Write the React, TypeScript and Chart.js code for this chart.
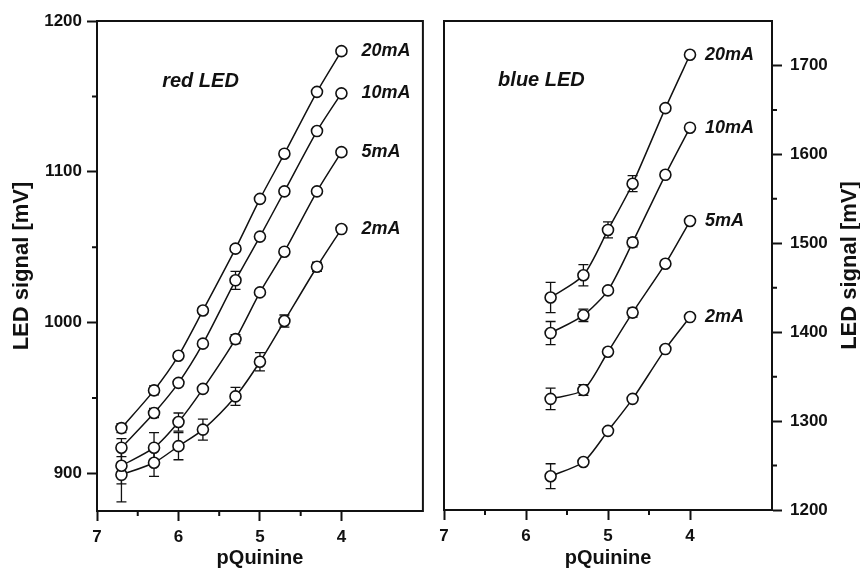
import React, { useEffect, useRef } from "react";
import { Chart, registerables } from "chart.js";
Chart.register(...registerables);

// ---- data ----
const redX = [6.7, 6.3, 6.0, 5.7, 5.3, 5.0, 4.7, 4.3, 4.0];
const red20 = [930, 955, 978, 1008, 1049, 1082, 1112, 1153, 1180];
const red20Err = [3, 3, 2, 2, 2, 2, 2, 2, 2];
const red10 = [917, 940, 960, 986, 1028, 1057, 1087, 1127, 1152];
const red10Err = [6, 3, 2, 2, 6, 2, 2, 2, 2];
const red5 = [905, 917, 934, 956, 989, 1020, 1047, 1087, 1113];
const red5Err = [12, 10, 6, 2, 3, 2, 2, 2, 2];
const red2 = [899, 907, 918, 929, 951, 974, 1001, 1037, 1062];
const red2Err = [18, 9, 9, 7, 6, 6, 4, 3, 2];

const blueX = [5.7, 5.3, 5.0, 4.7, 4.3, 4.0];
const blue20 = [1439, 1464, 1515, 1567, 1652, 1712];
const blue20Err = [17, 12, 9, 9, 3, 2];
const blue10 = [1399, 1419, 1447, 1501, 1577, 1630];
const blue10Err = [13, 7, 3, 5, 3, 2];
const blue5 = [1325, 1335, 1378, 1422, 1477, 1525];
const blue5Err = [12, 6, 2, 5, 2, 2];
const blue2 = [1238, 1254, 1289, 1325, 1381, 1417];
const blue2Err = [14, 2, 2, 2, 2, 2];

const seriesNames = ["20mA", "10mA", "5mA", "2mA"];
const xTicks = [7, 6, 5, 4];
const xMinor = [6.5, 5.5, 4.5];
const redYTicks = [900, 1000, 1100, 1200];
const redYMinor = [950, 1050, 1150];
const blueYTicks = [1200, 1300, 1400, 1500, 1600, 1700];
const blueYMinor = [1250, 1350, 1450, 1550, 1650];

const FONT = '"Liberation Sans", Arial, Helvetica, sans-serif';
const INK = "#111";

type Panel = {
  xs: number[];
  series: number[][];
  errs: number[][];
  yMin: number;
  yMax: number;
  yTicks: number[];
  yMinor: number[];
  side: "left" | "right";
  panelLabel: string;
  panelLabelPos: [number, number];
  labelDx: number;
};

function makeChart(canvas: HTMLCanvasElement, p: Panel) {
  const datasets = p.series.map((ys, si) => ({
    label: seriesNames[si],
    data: p.xs.map((x, i) => ({ x, y: ys[i] })),
    borderColor: INK,
    borderWidth: 1.5,
    pointRadius: 5.5,
    pointHoverRadius: 5.5,
    pointBackgroundColor: "#fff",
    pointBorderColor: INK,
    pointBorderWidth: 1.6,
    tension: 0.25,
    fill: false,
  }));

  const plugin = {
    id: "decor",
    beforeDatasetsDraw(chart: any) {
      const ctx = chart.ctx;
      const xs = chart.scales.x;
      const ys = chart.scales.y;
      ctx.save();
      ctx.strokeStyle = INK;
      ctx.lineWidth = 1.3;
      p.series.forEach((vals, si) => {
        vals.forEach((v, i) => {
          const e = p.errs[si][i];
          const px = xs.getPixelForValue(p.xs[i]);
          const t = ys.getPixelForValue(v + e);
          const b = ys.getPixelForValue(v - e);
          ctx.beginPath();
          ctx.moveTo(px, t);
          ctx.lineTo(px, b);
          ctx.moveTo(px - 5, t);
          ctx.lineTo(px + 5, t);
          ctx.moveTo(px - 5, b);
          ctx.lineTo(px + 5, b);
          ctx.stroke();
        });
      });
      ctx.restore();
    },
    afterDraw(chart: any) {
      const ctx = chart.ctx;
      const a = chart.chartArea;
      const xs = chart.scales.x;
      const ys = chart.scales.y;
      ctx.save();
      ctx.strokeStyle = INK;
      ctx.lineWidth = 2;
      ctx.strokeRect(a.left, a.top, a.right - a.left, a.bottom - a.top);
      // minor ticks
      ctx.beginPath();
      xMinor.forEach((v) => {
        const px = xs.getPixelForValue(v);
        ctx.moveTo(px, a.bottom);
        ctx.lineTo(px, a.bottom + 5);
      });
      p.yMinor.forEach((v) => {
        const py = ys.getPixelForValue(v);
        if (p.side === "left") {
          ctx.moveTo(a.left - 5, py);
          ctx.lineTo(a.left, py);
        } else {
          ctx.moveTo(a.right, py);
          ctx.lineTo(a.right + 5, py);
        }
      });
      ctx.stroke();
      // series labels
      ctx.fillStyle = INK;
      ctx.font = `italic bold 18px ${FONT}`;
      ctx.textAlign = "left";
      ctx.textBaseline = "middle";
      p.series.forEach((vals, si) => {
        const last = vals.length - 1;
        const px = xs.getPixelForValue(p.xs[last]);
        const py = ys.getPixelForValue(vals[last]);
        ctx.fillText(seriesNames[si], px + p.labelDx, py);
      });
      // panel label
      ctx.font = `italic bold 20px ${FONT}`;
      ctx.fillText(
        p.panelLabel,
        xs.getPixelForValue(p.panelLabelPos[0]),
        ys.getPixelForValue(p.panelLabelPos[1])
      );
      // right-side axis title reading upwards
      if (p.side === "right") {
        ctx.font = `bold 22px ${FONT}`;
        ctx.textAlign = "center";
        ctx.translate(420, (a.top + a.bottom) / 2);
        ctx.rotate(-Math.PI / 2);
        ctx.fillText("LED signal [mV]", 0, 0);
      }
      ctx.restore();
    },
  };

  const tickFont = { family: FONT, size: 17, weight: "bold" as const };

  return new Chart(canvas, {
    type: "line",
    data: { datasets },
    options: {
      animation: false,
      responsive: false,
      maintainAspectRatio: false,
      events: [],
      layout: {
        padding:
          p.side === "left"
            ? { top: 21, right: 6, left: 0, bottom: 0 }
            : { top: 21, right: 0, left: 14, bottom: 0 },
      },
      plugins: {
        legend: { display: false },
        tooltip: { enabled: false },
        title: { display: false },
      },
      scales: {
        x: {
          type: "linear",
          min: 3,
          max: 7,
          reverse: true,
          afterBuildTicks: (s: any) => {
            s.ticks = xTicks.map((v) => ({ value: v }));
          },
          afterFit: (s: any) => {
            s.height = p.side === "left" ? 59 : 60;
          },
          grid: {
            display: true,
            drawOnChartArea: false,
            drawTicks: true,
            tickLength: 10,
            tickWidth: 2,
            tickColor: INK,
          },
          border: { display: true, width: 2, color: INK },
          ticks: {
            font: tickFont,
            color: INK,
            padding: 6,
            maxRotation: 0,
            autoSkip: false,
            callback: (v: any) => String(v),
          },
          title: {
            display: true,
            text: "pQuinine",
            color: INK,
            font: { family: FONT, size: 20, weight: "bold", lineHeight: 1 },
            padding: { top: 0, bottom: 2 },
          },
        },
        y: {
          type: "linear",
          position: p.side,
          min: p.yMin,
          max: p.yMax,
          afterBuildTicks: (s: any) => {
            s.ticks = p.yTicks.map((v) => ({ value: v }));
          },
          afterFit: (s: any) => {
            s.width = p.side === "left" ? 97 : 88;
          },
          grid: {
            display: true,
            drawOnChartArea: false,
            drawTicks: true,
            tickLength: 10,
            tickWidth: 2,
            tickColor: INK,
          },
          border: { display: true, width: 2, color: INK },
          ticks: {
            font: tickFont,
            color: INK,
            padding: p.side === "left" ? 5 : 8,
            autoSkip: false,
            callback: (v: any) => String(v),
          },
          title: {
            display: p.side === "left",
            text: "LED signal [mV]",
            color: INK,
            font: { family: FONT, size: 22, weight: "bold", lineHeight: 1 },
            padding: { top: 11, bottom: 0 },
          },
        },
      },
    },
    plugins: [plugin],
  } as any);
}

function PanelChart({ panel, left }: { panel: Panel; left: number }) {
  const ref = useRef<HTMLCanvasElement | null>(null);
  useEffect(() => {
    if (!ref.current) return;
    const c = makeChart(ref.current, panel);
    return () => c.destroy();
  }, []);
  return (
    <canvas
      ref={ref}
      width={430}
      height={570}
      style={{ position: "absolute", left, top: 0, width: 430, height: 570, display: "block" }}
    />
  );
}

const redPanel: Panel = {
  xs: redX,
  series: [red20, red10, red5, red2],
  errs: [red20Err, red10Err, red5Err, red2Err],
  yMin: 875,
  yMax: 1200,
  yTicks: redYTicks,
  yMinor: redYMinor,
  side: "left",
  panelLabel: "red LED",
  panelLabelPos: [6.2, 1160],
  labelDx: 20,
};

const bluePanel: Panel = {
  xs: blueX,
  series: [blue20, blue10, blue5, blue2],
  errs: [blue20Err, blue10Err, blue5Err, blue2Err],
  yMin: 1200,
  yMax: 1750,
  yTicks: blueYTicks,
  yMinor: blueYMinor,
  side: "right",
  panelLabel: "blue LED",
  panelLabelPos: [6.34, 1683],
  labelDx: 15,
};

export default function App() {
  return (
    <div
      style={{
        position: "absolute",
        left: 0,
        top: 0,
        width: 860,
        height: 570,
        background: "#fff",
        overflow: "hidden",
      }}
    >
      <PanelChart panel={redPanel} left={0} />
      <PanelChart panel={bluePanel} left={430} />
    </div>
  );
}
